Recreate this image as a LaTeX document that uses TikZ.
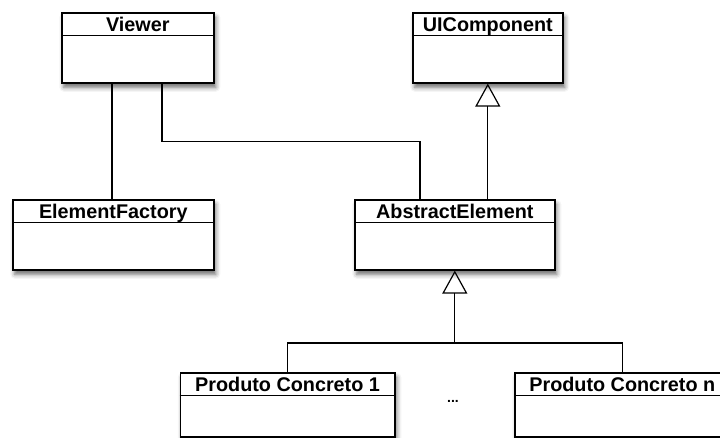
\documentclass[tikz,border=0pt]{standalone}
\usepackage{fontspec}
\setmainfont{Liberation Sans}
\usetikzlibrary{shadows.blur,arrows.meta}

\tikzset{
  classbox/.style={draw=black, line width=1.6pt, fill=white, inner sep=0pt,
    anchor=north west,
    blur shadow={shadow xshift=2pt, shadow yshift=-4.5pt,
                 shadow blur radius=4.5pt, shadow opacity=60}},
  classname/.style={anchor=base, inner sep=0pt,
    font=\fontsize{19.8}{22}\selectfont\bfseries},
  link/.style={draw=black, line width=1.2pt},
  inherit/.style={link,
    -{Triangle[open, length=23pt, width=25pt, line width=1.2pt]}},
}

% class box: name, left, top, width, height, title
\newcommand\umlclass[6]{%
  \node[classbox, minimum width=#4pt, minimum height=#5pt] (#1) at (#2,#3) {};
  \draw[line width=1.6pt] ([yshift=-23.5pt]#1.north west) -- ([yshift=-23.5pt]#1.north east);
  \node[classname] (#1-title) at ([yshift=-19pt]#1.north) {#6};
}

\begin{document}
\begin{tikzpicture}[x=1pt, y=-1pt]
  \useasboundingbox (0,0) rectangle (720,437);
  \clip (0,0) rectangle (720,437);

  \umlclass{viewer}{61}{12}{152}{70}{Viewer}
  \umlclass{ui}{412}{12}{150}{70}{UIComponent}
  \umlclass{ef}{12}{199}{201}{70}{ElementFactory}
  \umlclass{ae}{354}{199}{200}{70}{AbstractElement}
  \umlclass{pc1}{179.5}{372}{214.5}{64}{Produto Concreto 1}
  \umlclass{pcn}{514}{372}{215}{64}{Produto Concreto n}

  \node[anchor=base, inner sep=0pt, font=\fontsize{14}{16}\selectfont\bfseries]
    (dots) at (453,402) {...};

  % associations
  \draw[link] ([xshift=51pt]viewer.south west) -- ([xshift=51pt]viewer.south west |- ef.north);
  \draw[link] ([xshift=101pt]viewer.south west) -- ++(0,58) -| ([xshift=66pt]ae.north west);

  % generalizations
  \draw[inherit] (ae.north -| ui.south) -- (ui.south);
  \coordinate (join) at ([yshift=29pt]pc1.north);
  \draw[link] (pc1.north) -- (join) -| (pcn.north);
  \draw[inherit] (join -| ae.south) -- (ae.south);
\end{tikzpicture}
\end{document}
